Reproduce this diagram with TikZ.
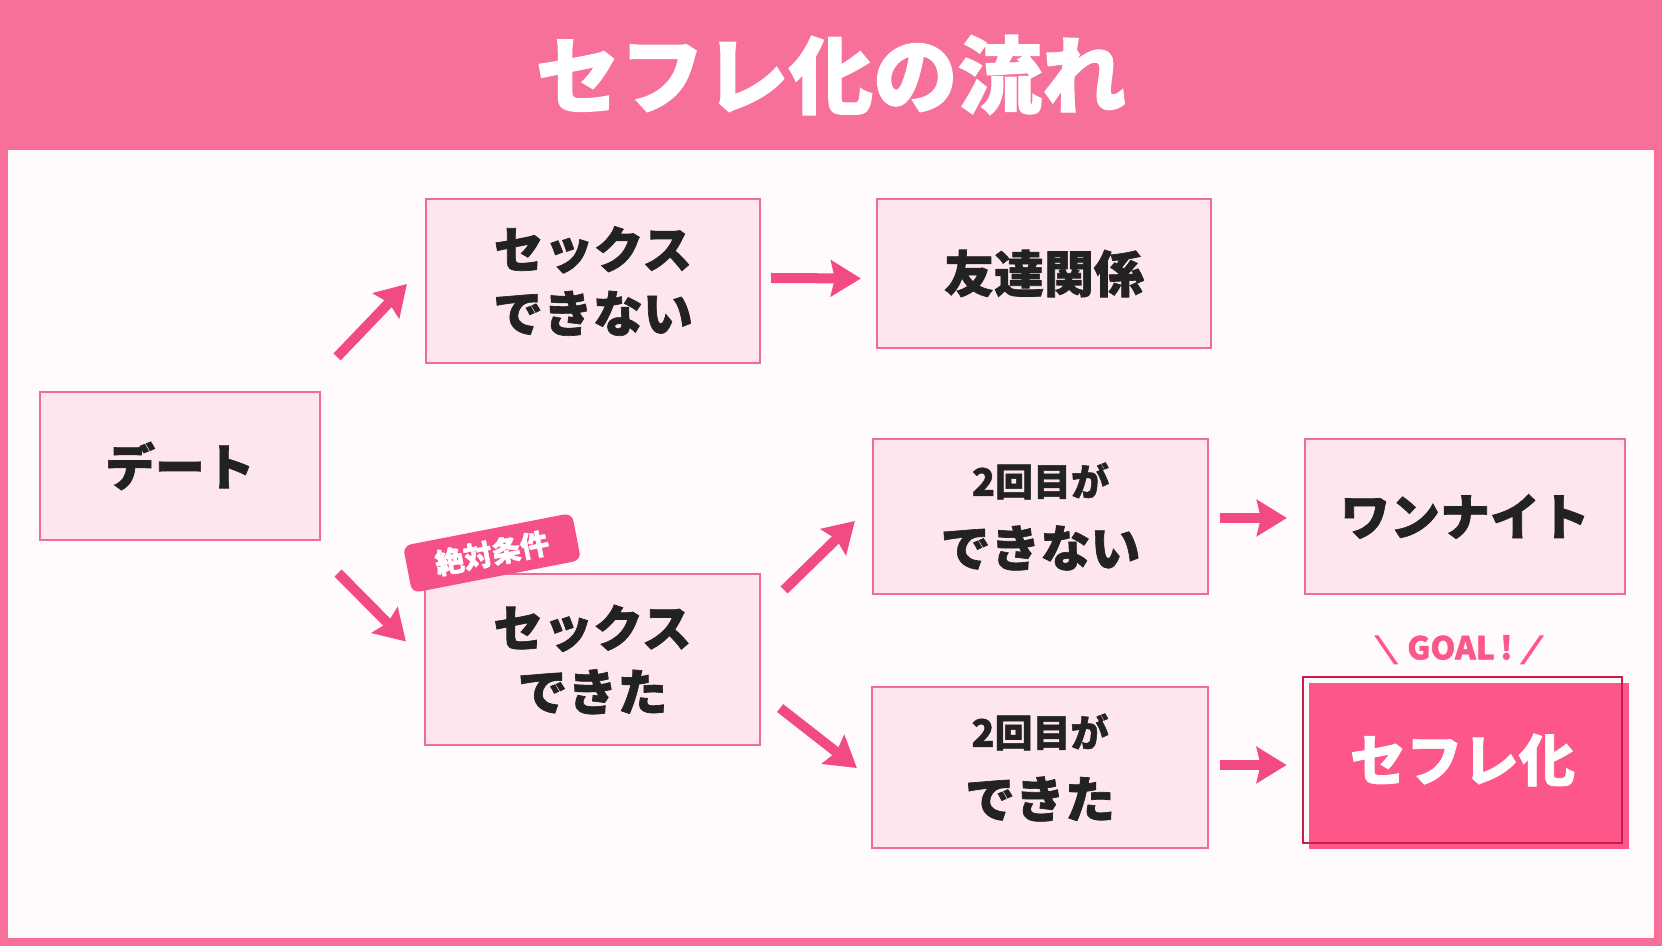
\documentclass[tikz,border=0pt]{standalone}
\usepackage{fontspec}
\usepackage{graphicx}
\setmainfont{Noto Sans CJK JP}[BoldFeatures={FakeBold=1.3}]
\usetikzlibrary{arrows.meta, calc, shadows}

\definecolor{bandpink}{HTML}{F7709A}
\definecolor{paper}{HTML}{FFFBFC}
\definecolor{boxfill}{HTML}{FDE6EE}
\definecolor{boxline}{HTML}{EF6C96}
\definecolor{arrowpink}{HTML}{F24A82}
\definecolor{ink}{HTML}{222222}
\definecolor{goalfill}{HTML}{FD5789}
\definecolor{goalline}{HTML}{D11A4C}
\definecolor{badgepink}{HTML}{F5508A}

\newcommand{\presize}{\fontsize{10.8}{13}\selectfont}
\newcommand{\goalbar}[1]{{\mdseries\scalebox{1.9}[0.85]{\fontsize{10}{10}\selectfont#1}}}

\begin{document}
\begin{tikzpicture}[
    x=0.01cm, y=-0.01cm,
    >={Stealth[length=0.3cm, width=0.36cm, inset=0.04cm]},
    box/.style={draw=boxline, fill=boxfill, line width=0.02cm, inner sep=0pt,
                align=center, text=ink, font=\bfseries\fontsize{14.2}{18.2}\selectfont},
    arr/.style={->, draw=arrowpink, fill=arrowpink, line width=0.1cm},
]
\useasboundingbox (0,0) rectangle (1662,946);

% === Frame and title band ===
\fill[bandpink] (0,0) rectangle (1662,946);
\fill[paper] (8,150) rectangle (1654,938);
\node[font=\bfseries\fontsize{24}{28}\selectfont, text=white] (title) at (831,75)
     {セフレ化の流れ};

% === Boxes ===
\node[box, minimum width=2.80cm, minimum height=1.48cm] (date) at (180,466) {デート};
\node[box, minimum width=3.34cm, minimum height=1.64cm] (sexno) at (593,281)
     {セックス\\できない};
\node[box, minimum width=3.35cm, minimum height=1.71cm] (sexyes) at (592.5,659.5)
     {セックス\\できた};
\node[box, minimum width=3.34cm, minimum height=1.49cm] (friend) at (1044,273.5)
     {友達関係};
\node[box, minimum width=3.35cm, minimum height=1.55cm] (twono) at (1040.5,516.5)
     {{\presize 2回目が}\\[2pt]できない};
\node[box, minimum width=3.36cm, minimum height=1.61cm] (twoyes) at (1040,767.5)
     {{\presize 2回目が}\\[2pt]できた};
\node[box, minimum width=3.20cm, minimum height=1.55cm] (onenight) at (1465,516.5)
     {ワンナイト};

% === Goal box ===
\node[draw=goalline, line width=0.025cm, inner sep=0pt,
      minimum width=3.19cm, minimum height=1.66cm,
      general shadow={fill=goalfill, shadow xshift=0.065cm, shadow yshift=-0.06cm},
      text=white, font=\bfseries\fontsize{16}{19}\selectfont] (sefure) at (1462.5,760)
     {セフレ化};
\node[text=goalfill, font=\bfseries\fontsize{9}{10}\selectfont] (goal) at (1460,650)
     {\goalbar{\textbackslash}\ GOAL\,!\ \goalbar{/}};

% === Badge ===
\node[fill=badgepink, rounded corners=0.08cm, rotate=11, inner sep=0pt,
      minimum width=1.72cm, minimum height=0.48cm,
      text=white, font=\bfseries\fontsize{8.2}{10}\selectfont] (must) at (492,553)
     {絶対条件};

% === Arrows ===
\draw[arr] ($(date.north east)+(16,-34)$) -- ($(sexno.west)+(-18,3)$);
\draw[arr] ($(date.south east)+(17,32)$) -- ($(sexyes.west)+(-18,-18)$);
\draw[arr] ($(sexno.east)+(10,-3)$) -- ($(friend.west)+(-15,5)$);
\draw[arr] ($(sexyes.north east)+(23,17)$) -- ($(twono.west)+(-17,4.5)$);
\draw[arr] ($(sexyes.south east)+(19,-38)$) -- ($(twoyes.west)+(-14,0.5)$);
\draw[arr] ($(twono.east)+(10.5,1.5)$) -- ($(onenight.west)+(-17,1.5)$);
\draw[arr] ($(twoyes.east)+(11,-2.5)$) -- ($(sefure.west)+(-15,5)$);

\end{tikzpicture}
\end{document}
